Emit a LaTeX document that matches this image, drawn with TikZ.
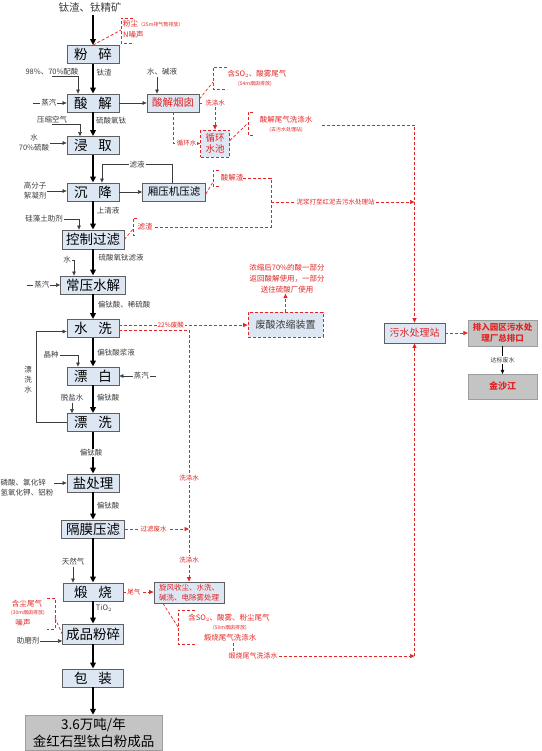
\documentclass[tikz,border=0pt]{standalone}
\usepackage{fontspec}
\setmainfont{Noto Sans CJK SC}
\usetikzlibrary{arrows.meta}

\definecolor{boxblue}{RGB}{221,231,243}
\definecolor{boxline}{RGB}{95,95,95}
\definecolor{annred}{RGB}{226,36,36}
\definecolor{outgray}{RGB}{196,196,196}
\definecolor{txtgray}{RGB}{60,60,60}

\tikzset{
  proc/.style={draw=boxline, fill=boxblue, line width=0.8pt, minimum width=52pt, minimum height=18pt, inner sep=0pt, font=\fontsize{13.5}{15}\selectfont},
  sidebox/.style={proc, font=\fontsize{10.5}{12}\selectfont},
  redbox/.style={draw=annred, dash pattern=on 3pt off 2pt, fill=boxblue, line width=0.8pt, inner sep=0pt, align=center},
  outbox/.style={fill=outgray, draw=outgray!80!black, line width=0.3pt, inner sep=0pt, align=center},
  lbl/.style={font=\fontsize{7.5}{10}\selectfont, text=txtgray, inner sep=1pt},
  rlbl/.style={font=\fontsize{6.5}{8}\selectfont, text=annred, inner sep=1pt},
  note/.style={font=\fontsize{7.5}{9.5}\selectfont, text=annred, inner sep=0pt, align=center},
  smallred/.style={font=\fontsize{5}{6}\selectfont, text=annred, inner sep=0pt},
  flow/.style={draw=black, line width=1.6pt, -{Triangle[length=6pt,width=5.5pt]}},
  feed/.style={draw=txtgray, line width=0.6pt, -{Triangle[length=4pt,width=3.5pt]}},
  rline/.style={draw=annred, line width=0.7pt, dash pattern=on 3pt off 2pt},
  rtip/.style={-{Triangle[length=4.5pt,width=4pt]}},
}

\begin{document}
\begin{tikzpicture}[x=1pt,y=-1pt]
\useasboundingbox (0,0) rectangle (541,751);

% 主流程
\node[font=\fontsize{10.5}{12}\selectfont, text=txtgray] (yl) at (90,7) {钛渣、钛精矿};
\node[proc] (fs) at (93,54.5) {粉\hspace{0.8em}碎};
\node[proc] (sj) at (93,103) {酸\hspace{0.8em}解};
\node[proc] (jq) at (93,145.5) {浸\hspace{0.8em}取};
\node[proc] (cj) at (93,192) {沉\hspace{0.8em}降};
\node[proc, minimum width=62pt, minimum height=19pt] (kz) at (93,239.5) {控制过滤};
\node[proc, minimum width=65pt] (cy) at (93,285) {常压水解};
\node[proc] (sx) at (93,328.5) {水\hspace{0.8em}洗};
\node[proc] (pb) at (93,376) {漂\hspace{0.8em}白};
\node[proc] (px) at (93,422.5) {漂\hspace{0.8em}洗};
\node[proc] (ycl) at (93,483) {盐处理};
\node[proc, minimum width=63pt] (gm) at (93,529) {隔膜压滤};
\node[proc, minimum width=60pt] (ds) at (93,592) {煅\hspace{0.8em}烧};
\node[proc, minimum width=61pt, minimum height=20pt] (cp) at (93,634) {成品粉碎};
\node[proc, minimum width=61pt] (bz) at (93,678) {包\hspace{0.8em}装};
\node[outbox, minimum width=137pt, minimum height=35pt, font=\fontsize{13.5}{17}\selectfont] (cpo) at (93.5,732.5) {3.6万吨/年\\金红石型钛白粉成品};

\draw[flow] (yl.south -| fs.north) -- (fs.north);
\foreach \a/\b in {fs/sj,sj/jq,jq/cj,cj/kz,kz/cy,cy/sx,sx/pb,pb/px,px/ycl,ycl/gm,gm/ds,ds/cp,cp/bz}
  \draw[flow] (\a) -- (\b);
\draw[flow] (bz.south) -- (bz.south |- cpo.north);

% 物料标注
\node[lbl] (l1) at (104,73) {钛渣};
\node[lbl] (l2) at (111,121) {硫酸氧钛};
\node[lbl] (l3) at (108,211) {上清液};
\node[lbl] (l4) at (121,258) {硫酸氧钛滤液};
\node[lbl] (l5) at (124,305) {偏钛酸、稀硫酸};
\node[lbl] (l6) at (116,353) {偏钛酸浆液};
\node[lbl] (l7) at (108,398) {偏钛酸};
\node[lbl, fill=white] (l8) at (91,453) {偏钛酸};
\node[lbl] (l9) at (108,506) {偏钛酸};
\node[lbl] (l10) at (104,608) {TiO$_2$};

% 加入物料
\node[lbl] (pjs) at (52,72) {98\%、70\%配酸};
\draw[feed] (pjs.south) -| ([xshift=-15pt]sj.north);
\coordinate (zq1s) at (33,103);
\draw[feed] (zq1s) -- node[lbl, fill=white, pos=0.47] (zq1) {蒸汽} (sj.west);
\node[lbl] (ysk) at (52,120) {压缩空气};
\draw[feed] (ysk.south) -| ([xshift=-13pt]jq.north);
\node[lbl, align=center] (jqi) at (34,143) {水\\70\%硫酸};
\draw[feed] (jqi.east) -- (jqi.east -| jq.west);
\node[lbl, align=center] (xnj) at (35,191) {高分子\\絮凝剂};
\draw[feed] (xnj.east) -- (xnj.east -| cj.west);
\node[lbl] (gzt) at (44,219) {硅藻土助剂};
\draw[feed] (gzt.east) -| ([xshift=-14pt]kz.north);
\node[lbl] (shs) at (67,260) {水};
\draw[feed] (shs.east) -| ([xshift=-19pt]cy.north);
\coordinate (zq2s) at (27,285);
\draw[feed] (zq2s) -- node[lbl, fill=white, pos=0.45] (zq2) {蒸汽} (cy.west);
\node[lbl] (jz) at (51,355) {晶种};
\draw[feed] (jz.east) -| ([xshift=-15pt]pb.north);
\coordinate (zq3s) at (156,376);
\draw[feed] (zq3s) -- node[lbl, fill=white, pos=0.4] (zq3) {蒸汽} (pb.east);
\node[lbl] (tys) at (72,398) {脱盐水};
\draw[feed] (tys.south) -- (tys.south |- px.north);
\draw[feed] (px.west) -- ++(-30,0) |- ([yshift=-3pt]sx.west);
\node[lbl, align=center] (pxs) at (28,380) {漂\\洗\\水};
\node[lbl, align=left] (yclj) at (27,488) {磷酸、氯化锌\\氢氧化钾、铝粉};
\draw[feed] ([yshift=5pt]yclj.east) -- ([yshift=5pt]yclj.east -| ycl.west);
\node[lbl] (trq) at (73,562) {天然气};
\draw[feed] (trq.south) -- (trq.south |- ds.north);
\node[lbl] (zmj) at (28,641) {助磨剂};
\draw[feed] (zmj.east) -- (zmj.east -| cp.west);

% 粉碎粉尘
\draw[rline] (133,18) -- (121,18) -- (121,43) -- (133,43);
\draw[rline] (fs.north) -- (121,30);
\node[note, anchor=west] (fc1) at (123,24) {粉尘\fontsize{5}{6}\selectfont（25m排气筒排放）};
\node[note, anchor=west] (fc2) at (123,35) {N噪声};

% 酸解烟囱
\node[sidebox, text=annred] (yc) at (173,103) {酸解烟囱};
\draw[feed] (sj) -- (yc);
\node[lbl] (sjy) at (162,72) {水、碱液};
\draw[feed] ([xshift=-5pt]sjy.south) -- ([xshift=-16pt]yc.north);
\draw[rline] (227,67) -- (213,67) -- (213,89) -- (227,89);
\draw[rline] ([yshift=4pt]yc.east) -- (213,82);
\node[note] (so1) at (257,74) {含SO$_2$、酸雾尾气};
\node[smallred] (so2) at (255,84) {(54m烟囱排放)};
\node[redbox, text=annred, font=\fontsize{9.5}{11.5}\selectfont, minimum width=29pt, minimum height=27pt] (xh) at (215,143.5) {循环\\水池};
\draw[rline, rtip] (yc.east) -| node[rlbl, fill=white, pos=0.5] (xd1) {洗涤水} (xh.north);
\draw[rline, rtip] (yc.south) |- node[rlbl, fill=white, pos=0.75] (xhs) {循环水} (xh.west);
\draw[rline] (253,112) -- (248,112) -- (248,135) -- (253,135);
\draw[rline] ([yshift=3pt]xh.east) -- (248,123);
\node[note] (sw1) at (286,120) {酸解尾气洗涤水};
\node[smallred] (sw2) at (286,129.5) {(去污水处理站)};

% 压滤、滤渣
\node[sidebox, minimum width=63pt] (xyj) at (174,192) {厢压机压滤};
\draw[feed] (cj) -- (xyj);
\draw[feed] ([xshift=-2pt]xyj.north) -- ++(0,-18) -| ([xshift=9pt]cj.north);
\node[lbl, fill=white] (lyl) at (137,165) {滤液};
\draw[rline] (219,170) -- (213,170) -- (213,186) -- (219,186);
\draw[rline] ([yshift=-2pt]xyj.east) -- (213,182);
\node[note] (sjz) at (232,178) {酸解渣};
\draw[rline] (137,218) -- (133,218) -- (133,235) -- (137,235);
\draw[rline] (kz.east) -- (133,229);
\node[note] (lz) at (145,227) {滤渣};
\coordinate (jc) at (271,202);
\draw[rline] (sjz.east) -| (271,227) -- (lz.east);
\draw[rline, rtip] (jc) -- node[rlbl, fill=white, pos=0.45] (pfs) {泥浆打至红泥去污水处理站} (jc -| 414.5,0);

% 废酸浓缩
\node[redbox, text=txtgray, font=\fontsize{10}{12}\selectfont, minimum width=75pt, minimum height=25pt] (fsn) at (285.5,324.5) {废酸浓缩装置};
\draw[rline, rtip] ([yshift=3.5pt]sx.east) -- node[rlbl, fill=white, pos=0.4] (fs22) {22\%废酸} ([yshift=-0.5pt]fsn.west);
\node[note, font=\fontsize{7.5}{11}\selectfont] (fsz) at (287,279) {浓缩后70\%的酸一部分\\返回酸解使用，一部分\\送往硫酸厂使用};
\draw[rline, rtip] (fsn.north) -- (fsn.north |- fsz.south);

% 煅烧尾气处理
\node[proc, font=\fontsize{7.5}{10}\selectfont, text=annred, align=center, minimum width=70pt, minimum height=21pt] (xf) at (189,592.5) {旋风收尘、水洗、\\碱洗、电除雾处理};
\draw[rline, rtip] ([yshift=-1.5pt]sx.east) -| (xf.north);
\node[rlbl, fill=white] (xd2) at (189,478) {洗涤水};
\node[rlbl, fill=white] (xd3) at (189,560) {洗涤水};
\draw[rline, rtip] (gm.east) -- node[rlbl, fill=white, pos=0.45] (glfs) {过滤废水} (gm.east -| xf.north);
\draw[rline, rtip] (ds.east) -- node[rlbl, fill=white, pos=0.35] (wq) {尾气} (ds.east -| xf.west);
\draw[rline] (195,610) -- (178,610) -- (178,644) -- (195,644);
\draw[rline] ([xshift=-26pt]xf.south) -- (178,627);
\node[note] (ds1) at (229,618) {含SO$_2$、酸雾、粉尘尾气};
\node[smallred] (ds2) at (230,628) {(50m烟囱排放)};
\node[note] (ds3) at (230,637.5) {煅烧尾气洗涤水};
\draw[rline] (233,643) -- (233,651);
\node[rlbl, font=\fontsize{7}{8}\selectfont] (dsx) at (253,656) {煅烧尾气洗涤水};

% 粉碎含尘尾气
\node[note] (hc1) at (27,604) {含尘尾气};
\node[smallred] (hc2) at (28,613) {(30m烟囱排放)};
\node[note] (hc3) at (23,623) {噪声};
\draw[rline] (47,598) -- (55,598) -- (55,629) -- (47,629);
\draw[rline] (55,618) -- (cp.west);

% 污水处理站
\node[proc, font=\fontsize{10}{12}\selectfont, text=annred, minimum width=61pt, minimum height=20pt] (wsz) at (414.5,333) {污水处理站};
\node[outbox, text=annred, font=\bfseries\fontsize{8.5}{11}\selectfont, minimum width=69pt, minimum height=26pt] (prk) at (502.5,333) {排入园区污水处\\理厂总排口};
\node[outbox, text=annred, font=\bfseries\fontsize{9}{11}\selectfont, minimum width=69pt, minimum height=25pt] (jsj) at (502.5,386.5) {金沙江};
\draw[rline, rtip] (wsz) -- (prk);
\draw[feed, draw=black] (prk) -- node[lbl, fill=white, font=\fontsize{6}{7}\selectfont] (dbs) {达标废水} (jsj);
\coordinate (wsa) at (322,125);
\draw[rline, rtip] (wsa) -| (wsz.north);
\draw[rline, rtip] (dsx.east) -- (dsx.east -| wsz.south);
\draw[rline, rtip] (dsx.east -| wsz.south) -- (wsz.south);

\end{tikzpicture}
\end{document}
